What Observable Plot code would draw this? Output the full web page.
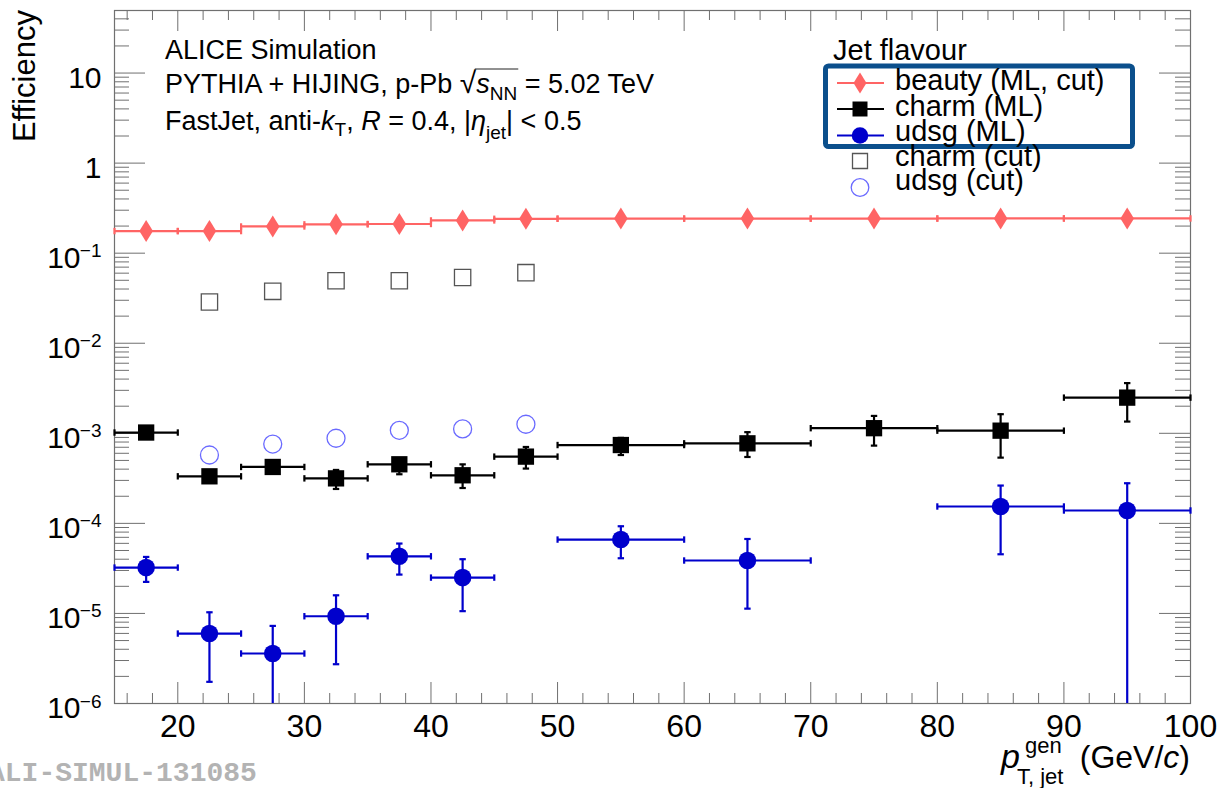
<!DOCTYPE html>
<html><head><meta charset="utf-8">
<script src="https://cdn.jsdelivr.net/npm/d3@7"></script>
<script src="https://cdn.jsdelivr.net/npm/@observablehq/plot@0.6"></script>
<style>html,body{margin:0;padding:0;background:#fff;overflow:hidden} svg{display:block}</style>
</head><body><div id="chart"></div>
<script>
// ---------- data ----------
const binLo     = [15, 20, 25, 30, 35, 40, 45, 50, 60, 70, 80, 90];
const binHi     = [20, 25, 30, 35, 40, 45, 50, 60, 70, 80, 90, 100];
const binCenter = [17.5, 22.5, 27.5, 32.5, 37.5, 42.5, 47.5, 55, 65, 75, 85, 95];

const beautyEff = [0.176, 0.176, 0.198, 0.209, 0.211, 0.231, 0.241, 0.242, 0.242, 0.242, 0.243, 0.243];

const charmML     = [1.02e-3, 3.33e-4, 4.23e-4, 3.16e-4, 4.53e-4, 3.42e-4, 5.51e-4, 7.41e-4, 7.74e-4, 1.14e-3, 1.07e-3, 2.49e-3];
const charmMLLow  = [0.97e-3, 3.05e-4, 3.90e-4, 2.41e-4, 3.51e-4, 2.47e-4, 4.06e-4, 5.74e-4, 5.46e-4, 7.30e-4, 5.37e-4, 1.35e-3];
const charmMLHigh = [1.07e-3, 3.60e-4, 4.60e-4, 3.92e-4, 5.30e-4, 4.52e-4, 7.05e-4, 8.90e-4, 1.03e-3, 1.56e-3, 1.63e-3, 3.61e-3];

const udsgML     = [3.23e-5, 5.98e-6, 3.59e-6, 9.31e-6, 4.31e-5, 2.50e-5, null, 6.61e-5, 3.87e-5, null, 1.54e-4, 1.39e-4];
const udsgMLLow  = [2.24e-5, 1.74e-6, 0,       2.73e-6, 2.70e-5, 1.06e-5, null, 4.10e-5, 1.13e-5, null, 4.54e-5, 0];
const udsgMLHigh = [4.24e-5, 1.03e-5, 7.27e-6, 1.59e-5, 5.97e-5, 4.00e-5, null, 9.29e-5, 6.71e-5, null, 2.63e-4, 2.79e-4];

const charmCut = [null, 2.87e-2, 3.77e-2, 4.95e-2, 4.95e-2, 5.38e-2, 6.08e-2, null, null, null, null, null];
const udsgCut  = [null, 5.74e-4, 7.60e-4, 8.81e-4, 1.08e-3, 1.12e-3, 1.26e-3, null, null, null, null, null];

const xMajorTicks = [20, 30, 40, 50, 60, 70, 80, 90, 100];
const yTickExponents = [-6, -5, -4, -3, -2, -1, 0, 1];

const legendTitle = "Jet flavour";
const legendLabels = ["beauty (ML, cut)", "charm (ML)", "udsg (ML)", "charm (cut)", "udsg (cut)"];

// ---------- layout / styles ----------
const W = 1221, H = 788;
const mL = 114, mR = 31, mT = 10, mB = 85;
const PW = W - mL - mR, PH = H - mT - mB;
const gray = "#707070";
const cBeauty = "#ff6464", cCharm = "#000000", cUdsg = "#0000cc", cUdsgCut = "#6a6aff", cCharmCut = "#555555";
const font = "'Liberation Sans', Arial, Helvetica, sans-serif";

const yTop = 49.5;
const yMajor = yTickExponents.map(e => Math.pow(10, e));
const yMinor = [];
yTickExponents.forEach(e => { for (let k = 2; k <= 9; k++) { const v = k * Math.pow(10, e); if (v <= yTop) yMinor.push(v); } });
const xMinor = [];
for (let v = 16; v < 100; v += 2) if (v % 10 !== 0) xMinor.push(v);

const bins = binCenter.map((x, i) => ({x, lo: binLo[i], hi: binHi[i]}));
const beauty = bins.map((b, i) => ({...b, v: beautyEff[i]}));
const charm = bins.map((b, i) => ({...b, v: charmML[i], elo: charmMLLow[i], ehi: charmMLHigh[i]}));
const udsg = bins.map((b, i) => ({...b, v: udsgML[i], elo: udsgMLLow[i], ehi: udsgMLHigh[i]})).filter(d => d.v != null);
const charmC = bins.map((b, i) => ({...b, v: charmCut[i]})).filter(d => d.v != null);
const udsgC = bins.map((b, i) => ({...b, v: udsgCut[i]})).filter(d => d.v != null);

// custom symbols (fixed pixel sizes)
const rad = size => Math.sqrt(size / Math.PI);
const vCap = {draw(ctx, size) { const r = rad(size); ctx.moveTo(0, -r); ctx.lineTo(0, r); }};
const hCap = {draw(ctx, size) { const r = rad(size); ctx.moveTo(-r, 0); ctx.lineTo(r, 0); }};
const tallDiamond = {draw(ctx, size) { const r = rad(size); ctx.moveTo(0, -r); ctx.lineTo(r * 0.62, 0); ctx.lineTo(0, r); ctx.lineTo(-r * 0.62, 0); ctx.closePath(); }};

function errorMarks(data, color, withV) {
  const m = [
    Plot.ruleY(data, {y: "v", x1: "lo", x2: "hi", stroke: color, strokeWidth: 2.2}),
    Plot.dot(data, {x: "lo", y: "v", symbol: vCap, r: 3.2, stroke: color, strokeWidth: 2.2, fill: "none"}),
    Plot.dot(data, {x: "hi", y: "v", symbol: vCap, r: 3.2, stroke: color, strokeWidth: 2.2, fill: "none"})
  ];
  if (withV) {
    m.push(
      Plot.ruleX(data, {x: "x", y1: "elo", y2: "ehi", stroke: color, strokeWidth: 2.2, clip: true}),
      Plot.dot(data.filter(d => d.elo > 0), {x: "x", y: "elo", symbol: hCap, r: 3.2, stroke: color, strokeWidth: 2.2, fill: "none"}),
      Plot.dot(data, {x: "x", y: "ehi", symbol: hCap, r: 3.2, stroke: color, strokeWidth: 2.2, fill: "none"})
    );
  }
  return m;
}

const expTicks = yTickExponents.filter(e => e < 0).map(e => ({v: Math.pow(10, e), exp: "\u2212" + Math.abs(e)}));
const plainTicks = yTickExponents.filter(e => e >= 0).map(e => ({v: Math.pow(10, e), label: e === 0 ? "1" : "10"}));

const plot = Plot.plot({
  width: W, height: H,
  marginLeft: mL, marginRight: mR, marginTop: mT, marginBottom: mB,
  x: {domain: [15, 100], axis: null},
  y: {type: "log", domain: [1e-6, yTop], axis: null, clamp: true},
  style: {fontFamily: font, background: "white", color: "black", overflow: "visible"},
  marks: [
    // ticks (ROOT style, inside the frame, on all four sides)
    Plot.tickY(yMinor, {y: d => d, insetRight: PW - 15, stroke: gray}),
    Plot.tickY(yMinor, {y: d => d, insetLeft: PW - 15, stroke: gray}),
    Plot.tickY(yMajor, {y: d => d, insetRight: PW - 31, stroke: gray}),
    Plot.tickY(yMajor, {y: d => d, insetLeft: PW - 31, stroke: gray}),
    Plot.tickX(xMinor, {x: d => d, insetTop: PH - 10, stroke: gray}),
    Plot.tickX(xMinor, {x: d => d, insetBottom: PH - 10, stroke: gray}),
    Plot.tickX(xMajorTicks, {x: d => d, insetTop: PH - 21, stroke: gray}),
    Plot.tickX(xMajorTicks, {x: d => d, insetBottom: PH - 21, stroke: gray}),
    Plot.frame({stroke: gray, strokeWidth: 1.2}),
    // tick labels
    Plot.text(xMajorTicks, {x: d => d, text: d => String(d), frameAnchor: "bottom", lineAnchor: "bottom", dy: 33, fontSize: 32}),
    Plot.text(plainTicks, {y: "v", text: "label", frameAnchor: "left", textAnchor: "end", lineAnchor: "bottom", dx: -13, dy: 14.5, fontSize: 30}),
    Plot.text(expTicks, {y: "v", text: () => "10", frameAnchor: "left", textAnchor: "end", lineAnchor: "bottom", dx: -34, dy: 14.5, fontSize: 30}),
    Plot.text(expTicks, {y: "v", text: "exp", frameAnchor: "left", textAnchor: "end", lineAnchor: "bottom", dx: -13, dy: 4, fontSize: 19}),
    // beauty
    ...errorMarks(beauty, cBeauty, false),
    Plot.dot(beauty, {x: "x", y: "v", symbol: tallDiamond, r: 11, fill: cBeauty, stroke: "none"}),
    // charm ML
    ...errorMarks(charm, cCharm, true),
    Plot.dot(charm, {x: "x", y: "v", symbol: "square", r: 9.2, fill: cCharm, stroke: "none"}),
    // udsg ML
    ...errorMarks(udsg, cUdsg, true),
    Plot.dot(udsg, {x: "x", y: "v", symbol: "circle", r: 8.8, fill: cUdsg, stroke: "none"}),
    // cut-based
    Plot.dot(charmC, {x: "x", y: "v", symbol: "square", r: 9.2, fill: "none", stroke: cCharmCut, strokeWidth: 1.3}),
    Plot.dot(udsgC, {x: "x", y: "v", symbol: "circle", r: 9, fill: "none", stroke: cUdsgCut, strokeWidth: 1.3})
  ]
});

document.getElementById("chart").append(plot);
const svg = d3.select(plot);
const g = svg.append("g").attr("font-family", font).attr("fill", "black").attr("text-anchor", "start");

// Y axis title
g.append("text").attr("transform", "translate(35,10) rotate(-90)").attr("text-anchor", "end")
  .attr("font-size", 31).text("Efficiency");

// X axis title
g.append("text").attr("x", 1190).attr("y", 768).attr("text-anchor", "end").attr("font-size", 32)
  .call(t => { t.append("tspan").text("(GeV/"); t.append("tspan").attr("font-style", "italic").text("c"); t.append("tspan").text(")"); });
g.append("text").attr("x", 1001).attr("y", 768).attr("font-size", 34).attr("font-style", "italic").text("p");
g.append("text").attr("x", 1025).attr("y", 753).attr("font-size", 22).text("gen");
g.append("text").attr("x", 1017).attr("y", 784).attr("font-size", 22).text("T, jet");

// Annotations
g.append("text").attr("x", 165).attr("y", 59).attr("font-size", 27).text("ALICE Simulation");
const l2 = g.append("text").attr("x", 165).attr("y", 93).attr("font-size", 27);
const l2a = "PYTHIA + HIJING, p-Pb ";
l2.append("tspan").text(l2a);
l2.append("tspan").attr("font-size", 30).attr("font-weight", "300").text("\u221A");
l2.append("tspan").attr("font-style", "italic").text("s");
l2.append("tspan").attr("font-size", 19).attr("dy", 7).text("NN");
l2.append("tspan").attr("dy", -7).text(" = 5.02 TeV");
try {
  const node = l2.node();
  const iS = l2a.length;
  const ext = node.getExtentOfChar(iS);
  const xEnd = node.getEndPositionOfChar(iS + 3).x;
  g.append("line").attr("x1", ext.x + ext.width - 1.5).attr("x2", xEnd + 1)
    .attr("y1", ext.y + 3).attr("y2", ext.y + 3).attr("stroke", "#222").attr("stroke-width", 1);
} catch (e) {}

const l3 = g.append("text").attr("x", 165).attr("y", 130).attr("font-size", 27);
l3.append("tspan").text("FastJet, anti-");
l3.append("tspan").attr("font-style", "italic").text("k");
l3.append("tspan").attr("font-size", 19).attr("dy", 6).text("T");
l3.append("tspan").attr("dy", -6).text(", ");
l3.append("tspan").attr("font-style", "italic").text("R");
l3.append("tspan").text(" = 0.4, |");
l3.append("tspan").attr("font-style", "italic").text("\u03B7");
l3.append("tspan").attr("font-size", 19).attr("dy", 9).text("jet");
l3.append("tspan").attr("dy", -9).text("| < 0.5");

// Legend
g.append("text").attr("x", 833).attr("y", 60).attr("font-size", 29).text(legendTitle);
g.append("rect").attr("x", 825.5).attr("y", 66).attr("width", 307).attr("height", 80.5).attr("rx", 3)
  .attr("fill", "none").attr("stroke", "#0b4f8c").attr("stroke-width", 5);
const legY = [83, 109, 135.5, 161, 187.5];
const legTextY = [90, 115.5, 141, 165.5, 190];
const sym = (type, size) => d3.symbol(type, size)();
const items = [
  {line: cBeauty, path: sym(tallDiamond, Math.PI * 10.5 * 10.5), fill: cBeauty, stroke: "none"},
  {line: cCharm, path: sym(d3.symbolSquare, 15 * 15), fill: cCharm, stroke: "none"},
  {line: cUdsg, path: sym(d3.symbolCircle, Math.PI * 8.3 * 8.3), fill: cUdsg, stroke: "none"},
  {line: null, path: sym(d3.symbolSquare, 15 * 15), fill: "none", stroke: cCharmCut},
  {line: null, path: sym(d3.symbolCircle, Math.PI * 8.8 * 8.8), fill: "none", stroke: cUdsgCut}
];
items.forEach((it, i) => {
  if (it.line) g.append("line").attr("x1", 837).attr("x2", 884).attr("y1", legY[i]).attr("y2", legY[i])
    .attr("stroke", it.line).attr("stroke-width", 2.2);
  g.append("path").attr("d", it.path).attr("transform", `translate(860,${legY[i]})`)
    .attr("fill", it.fill).attr("stroke", it.stroke).attr("stroke-width", 1.3);
  g.append("text").attr("x", 895).attr("y", legTextY[i]).attr("font-size", 29).text(legendLabels[i]);
});

// Watermark
g.append("text").attr("x", -12).attr("y", 781).attr("font-family", "'Liberation Mono', 'DejaVu Sans Mono', monospace")
  .attr("font-weight", "bold").attr("font-size", 28).attr("fill", "#b3b3b3").text("ALI-SIMUL-131085");
</script>
</body></html>
